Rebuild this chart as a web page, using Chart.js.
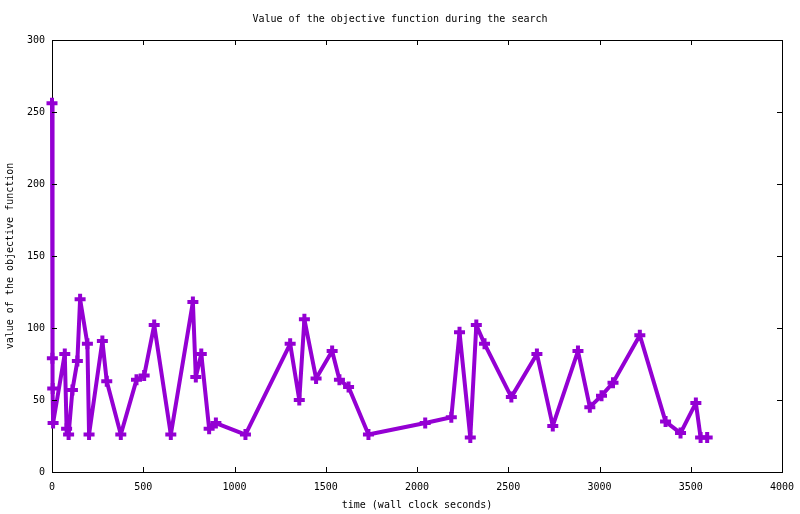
<!DOCTYPE html>
<html>
<head>
<meta charset="utf-8">
<title>Value of the objective function during the search</title>
<script src="https://cdn.jsdelivr.net/npm/chart.js@4.4.1/dist/chart.umd.min.js"></script>
<style>
  html, body { margin: 0; padding: 0; background: #fff; }
  #grafica { display: block; }
</style>
</head>
<body>
<canvas id="grafica" width="800" height="514"></canvas>
<script>
// tiempos (segundos de reloj) y valor de la funcion objetivo
const tiempos = [0, 2, 4, 6, 70, 80, 91, 112, 139, 154, 194, 203, 276, 300, 377,
  463, 505, 560, 651, 772, 788, 818, 861, 898, 1060, 1305, 1355, 1383, 1447, 1535,
  1575, 1625, 1734, 2045, 2188, 2233, 2292, 2325, 2370, 2517, 2657, 2744, 2882,
  2947, 3011, 3074, 3221, 3362, 3444, 3528, 3554, 3590];
const valores = [256, 79, 58, 34, 82, 30, 26, 57, 77, 120, 89, 26, 91, 63, 26,
  64, 67, 102, 26, 118, 66, 82, 30, 34, 26, 89, 50, 106, 65, 84,
  64, 59, 26, 34, 38, 97, 24, 102, 89, 52, 82, 32, 84,
  45, 53, 62, 95, 35, 27, 48, 24, 24];

const ticksX = [0, 500, 1000, 1500, 2000, 2500, 3000, 3500, 4000];
const ticksY = [0, 50, 100, 150, 200, 250, 300];

const fuente = { family: "'DejaVu Sans Mono', 'Liberation Mono', monospace", size: 10, weight: 'normal' };
const violeta = '#9400d3';

// marcas de los ejes hacia dentro, en los cuatro lados (estilo gnuplot)
const marcasInternas = {
  id: 'marcasInternas',
  afterDraw(chart) {
    const c = chart.ctx;
    const a = chart.chartArea;
    const sx = chart.scales.x;
    const sy = chart.scales.y;
    const largo = 5;
    c.save();
    c.strokeStyle = '#000';
    c.lineWidth = 1;
    c.beginPath();
    ticksX.forEach(v => {
      const px = Math.round(sx.getPixelForValue(v)) + 0.5;
      c.moveTo(px, a.bottom); c.lineTo(px, a.bottom - largo);
      c.moveTo(px, a.top); c.lineTo(px, a.top + largo);
    });
    ticksY.forEach(v => {
      const py = Math.round(sy.getPixelForValue(v)) + 0.5;
      c.moveTo(a.left, py); c.lineTo(a.left + largo, py);
      c.moveTo(a.right, py); c.lineTo(a.right - largo, py);
    });
    c.stroke();
    c.restore();
  }
};

new Chart(document.getElementById('grafica').getContext('2d'), {
  type: 'line',
  data: {
    datasets: [{
      label: 'objetivo',
      data: tiempos.map((t, i) => ({ x: t, y: valores[i] })),
      borderColor: violeta,
      backgroundColor: violeta,
      borderWidth: 4,
      borderJoinStyle: 'round',
      borderCapStyle: 'round',
      pointStyle: 'cross',
      pointRadius: 5.5,
      pointBorderWidth: 4,
      pointBorderColor: violeta,
      tension: 0,
      fill: false,
      clip: 10
    }]
  },
  options: {
    responsive: false,
    animation: false,
    events: [],
    layout: { padding: 0 },
    plugins: {
      legend: { display: false },
      tooltip: { enabled: false },
      title: {
        display: true,
        text: 'Value of the objective function during the search',
        color: '#000',
        font: fuente,
        padding: { top: 13, bottom: 15 }
      }
    },
    scales: {
      x: {
        type: 'linear',
        position: 'bottom',
        min: 0, max: 4000,
        afterBuildTicks: s => { s.ticks = ticksX.map(v => ({ value: v })); },
        afterFit: s => { s.height = 42; s.paddingLeft = 0; s.paddingRight = 0; },
        grid: { display: false, drawTicks: false },
        border: { display: true, color: '#000', width: 1 },
        ticks: { color: '#000', font: fuente, padding: 9, maxRotation: 0, callback: v => String(v) },
        title: {
          display: true,
          text: 'time (wall clock seconds)',
          color: '#000',
          font: fuente,
          padding: { top: 0, bottom: 3 }
        }
      },
      x2: {
        type: 'linear',
        position: 'top',
        min: 0, max: 4000,
        afterFit: s => { s.height = 0; s.paddingLeft = 0; s.paddingRight = 0; },
        grid: { display: false, drawTicks: false },
        border: { display: true, color: '#000', width: 1 },
        ticks: { display: false }
      },
      y: {
        type: 'linear',
        position: 'left',
        min: 0, max: 300,
        afterBuildTicks: s => { s.ticks = ticksY.map(v => ({ value: v })); },
        afterFit: s => { s.width = 52; s.paddingTop = 0; s.paddingBottom = 0; },
        grid: { display: false, drawTicks: false },
        border: { display: true, color: '#000', width: 1 },
        ticks: { color: '#000', font: fuente, padding: 7, callback: v => String(v) },
        title: {
          display: true,
          text: 'value of the objective function',
          color: '#000',
          font: fuente,
          padding: { top: 4, bottom: 0 }
        }
      },
      y2: {
        type: 'linear',
        position: 'right',
        min: 0, max: 300,
        afterFit: s => { s.width = 18; s.paddingTop = 0; s.paddingBottom = 0; },
        grid: { display: false, drawTicks: false },
        border: { display: true, color: '#000', width: 1 },
        ticks: { display: false }
      }
    }
  },
  plugins: [marcasInternas]
});
</script>
</body>
</html>
